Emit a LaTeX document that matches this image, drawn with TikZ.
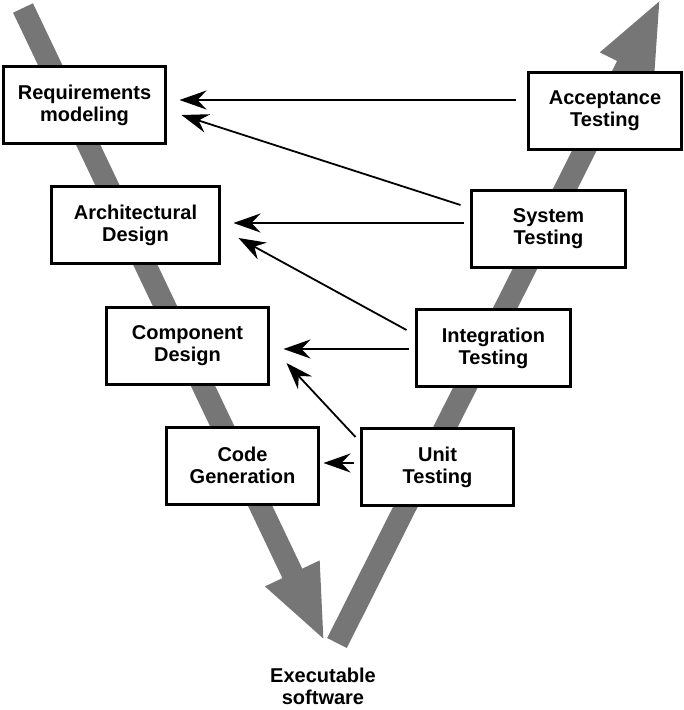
\documentclass[tikz,border=0pt]{standalone}
\usepackage{fontspec}
\setmainfont{Liberation Sans}
\usetikzlibrary{arrows.meta, calc}
\definecolor{vgray}{RGB}{118,118,118}
\tikzset{
    my-stage-box/.style={
        draw, fill=white, line width=3pt, minimum height=77pt, inner sep=0pt,
        align=center, font=\fontsize{20}{22}\selectfont\bfseries
    },
    my-v-bar/.style={
        draw=vgray, line width=22pt, -{Triangle[length=76pt, width=54pt]}
    },
    my-feedback/.style={
        line width=1.8pt, -{Stealth[length=27pt, width=19pt, inset=9pt]}
    },
}

\begin{document}
\begin{tikzpicture}[x=1pt, y=-1pt]

        % CANVAS
        \useasboundingbox (0,0) rectangle (684,710);
        \clip (0,0) rectangle (684,710);

        % V BARS
        \coordinate[] (DOWNTOP)  at (23,8);
        \coordinate[] (DOWNTIP)  at (325,642);
        \coordinate[] (UPFOOT)   at (337,643);
        \coordinate[] (UPTIP)    at (661,-2);
        \draw[my-v-bar] (DOWNTOP) -- (DOWNTIP);
        \draw[my-v-bar] (UPFOOT)  -- (UPTIP);

        % DESIGN STAGES
        \node[my-stage-box, minimum width=162pt] (REQ)  at (84.5,105)  {Requirements\\modeling};
        \node[my-stage-box, minimum width=168pt] (ARCH) at (135.5,225) {Architectural\\Design};
        \node[my-stage-box, minimum width=162pt] (COMP) at (187.5,346) {Component\\Design};
        \node[my-stage-box, minimum width=152pt] (CODE) at (242.5,465.5) {Code\\Generation};

        % TESTING STAGES
        \node[my-stage-box, minimum width=153pt] (ACC)  at (605,110.5) {Acceptance\\Testing};
        \node[my-stage-box, minimum width=154pt] (SYS)  at (548.5,229) {System\\Testing};
        \node[my-stage-box, minimum width=154pt] (INT)  at (493.5,348) {Integration\\Testing};
        \node[my-stage-box, minimum width=152pt] (UNIT) at (437.5,467) {Unit\\Testing};

        % RESULT
        \node[align=center, font=\fontsize{20}{22}\selectfont\bfseries] (EXE) at (323,686) {Executable\\software};

        % FEEDBACK CONNECTIONS
        \draw[my-feedback] ($(ACC.west)  + (-11.5,-10.5)$) -- ($(REQ.east)  + (12.5,-5)$);
        \draw[my-feedback] ($(SYS.west)  + (-9.5,-24)$)    -- ($(REQ.east)  + (14.5,10)$);
        \draw[my-feedback] ($(SYS.west)  + (-6.5,-6)$)     -- ($(ARCH.east) + (12.5,-2)$);
        \draw[my-feedback] ($(INT.west)  + (-8.5,-18)$)    -- ($(ARCH.east) + (17.5,13)$);
        \draw[my-feedback] ($(INT.west)  + (-6.5,1)$)      -- ($(COMP.east) + (13.5,3)$);
        \draw[my-feedback] ($(UNIT.west) + (-4.5,-30)$)    -- ($(COMP.east) + (16.5,17)$);
        \draw[my-feedback] ($(UNIT.west) + (-6.5,-4)$)     -- ($(CODE.east) + (3.5,-2.5)$);

    \end{tikzpicture}
\end{document}
